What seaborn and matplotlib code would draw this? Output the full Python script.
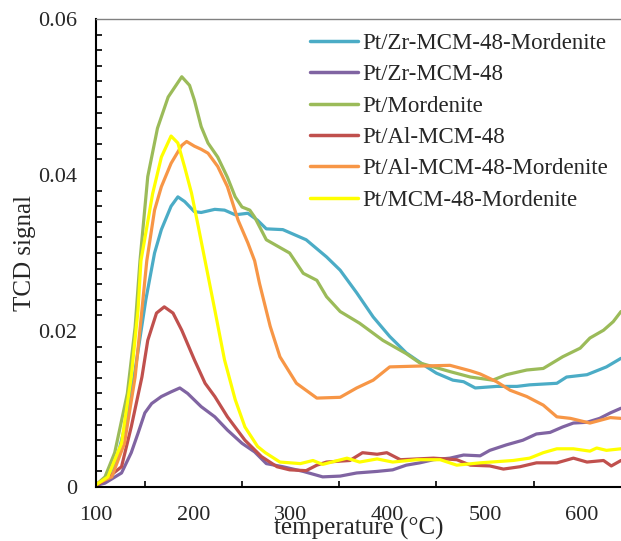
import matplotlib
matplotlib.use("Agg")
import matplotlib.pyplot as plt
import seaborn as sns
import pandas as pd
from matplotlib.ticker import MultipleLocator, FuncFormatter

names = ["Pt/Zr-MCM-48-Mordenite", "Pt/Zr-MCM-48", "Pt/Mordenite",
         "Pt/Al-MCM-48", "Pt/Al-MCM-48-Mordenite", "Pt/MCM-48-Mordenite"]
colors = ["#4BACC6", "#8064A2", "#9BBB59", "#C0504D", "#F79646", "#FFFF00"]

zr_mor_T = [100, 110, 120, 130, 140, 151, 160, 167, 177, 184, 191, 201, 208, 222, 232, 243, 256, 266, 275, 292,
            316, 337, 351, 368, 385, 402, 419, 440, 450, 467, 478, 490, 512, 533, 546, 574, 584, 605, 625, 640]
zr_mor_v = [0.0003, 0.001, 0.003, 0.008, 0.015, 0.024, 0.030, 0.033, 0.036, 0.0372, 0.0366, 0.0353, 0.0352,
            0.0356, 0.0355, 0.0349, 0.0351, 0.0342, 0.0331, 0.0330, 0.0317, 0.0295, 0.0278, 0.0249, 0.0218,
            0.0193, 0.0172, 0.0154, 0.0146, 0.0137, 0.0135, 0.0127, 0.0129, 0.0129, 0.0131, 0.0133, 0.0141,
            0.0144, 0.0154, 0.0165]

zr_T = [100, 109, 126, 136, 143, 150, 157, 167, 177, 186, 194, 208, 222, 235, 250, 263, 275, 292, 313, 333, 351,
        368, 389, 405, 419, 433, 447, 464, 478, 495, 505, 522, 539, 553, 567, 580, 591, 605, 618, 629, 640]
zr_v = [0.0002, 0.0005, 0.0018, 0.0044, 0.0069, 0.0095, 0.0107, 0.0116, 0.0122, 0.0127, 0.0120, 0.0103, 0.0090,
        0.0073, 0.0056, 0.0045, 0.0030, 0.0026, 0.0020, 0.0013, 0.0014, 0.0018, 0.0020, 0.0022, 0.0028, 0.0031,
        0.0035, 0.0037, 0.0041, 0.0040, 0.0047, 0.0054, 0.0060, 0.0068, 0.0070, 0.0077, 0.0082, 0.0083, 0.0088,
        0.0095, 0.0101]

mor_T = [100, 109, 119, 132, 140, 145, 153, 163, 174, 188, 196, 201, 208, 215, 225, 235, 243, 250, 258, 263, 275,
         299, 313, 327, 337, 351, 371, 395, 419, 433, 450, 464, 485, 508, 522, 543, 560, 580, 598, 608, 622, 632, 640]
mor_v = [0.0003, 0.0013, 0.0044, 0.012, 0.0205, 0.029, 0.0398, 0.046, 0.050, 0.0526, 0.0515, 0.0496, 0.0462,
         0.0441, 0.0423, 0.0397, 0.0372, 0.0359, 0.0355, 0.0346, 0.0317, 0.0300, 0.0274, 0.0265, 0.0244, 0.0225,
         0.0210, 0.0188, 0.0171, 0.0159, 0.0153, 0.0148, 0.0141, 0.0137, 0.0144, 0.0150, 0.0152, 0.0167, 0.0178,
         0.0191, 0.0201, 0.0212, 0.0225]

al_T = [100, 109, 126, 136, 147, 153, 162, 170, 179, 188, 201, 212, 222, 235, 253, 270, 286, 299, 316, 327, 337,
        361, 374, 389, 399, 413, 447, 471, 485, 505, 519, 536, 553, 574, 591, 605, 622, 630, 640]
al_v = [0.0002, 0.0009, 0.0026, 0.0077, 0.0141, 0.0188, 0.0223, 0.0231, 0.0223, 0.0201, 0.0163, 0.0133, 0.0116,
        0.0090, 0.0060, 0.0039, 0.0026, 0.0022, 0.0021, 0.0028, 0.0032, 0.0034, 0.0044, 0.0042, 0.0044, 0.0035,
        0.0037, 0.0035, 0.0028, 0.0027, 0.0023, 0.0026, 0.0031, 0.0031, 0.0037, 0.0032, 0.0034, 0.0027, 0.0034]

al_mor_T = [100, 116, 129, 140, 147, 152, 160, 167, 177, 188, 193, 201, 208, 215, 225, 235, 246, 256, 263, 268,
            279, 289, 306, 327, 351, 368, 385, 402, 430, 464, 485, 495, 512, 526, 543, 560, 574, 588, 608, 629, 640]
al_mor_v = [0.0004, 0.0013, 0.0056, 0.0141, 0.0227, 0.029, 0.0355, 0.0385, 0.0415, 0.0438, 0.0443, 0.0437,
            0.0433, 0.0428, 0.0411, 0.0385, 0.0342, 0.0313, 0.0290, 0.0261, 0.0206, 0.0167, 0.0133, 0.0114,
            0.0115, 0.0127, 0.0137, 0.0154, 0.0155, 0.0156, 0.0149, 0.0145, 0.0135, 0.0124, 0.0116, 0.0105,
            0.0090, 0.0088, 0.0082, 0.0089, 0.0088]

mcm_mor_T = [100, 112, 126, 136, 143, 146, 158, 167, 177, 184, 191, 198, 205, 212, 222, 232, 243, 253, 266, 274,
             289, 310, 323, 333, 358, 371, 389, 405, 430, 454, 471, 495, 529, 546, 560, 574, 591, 608, 615, 625, 640]
mcm_mor_v = [0.0003, 0.0013, 0.0056, 0.0141, 0.0227, 0.029, 0.0376, 0.0423, 0.0450, 0.0441, 0.0410, 0.0377,
             0.0334, 0.0290, 0.0227, 0.0163, 0.0112, 0.0077, 0.0052, 0.0044, 0.0032, 0.0030, 0.0034, 0.0029,
             0.0037, 0.0032, 0.0036, 0.0032, 0.0035, 0.0035, 0.0028, 0.0031, 0.0034, 0.0037, 0.0044, 0.0049,
             0.0049, 0.0046, 0.0050, 0.0047, 0.0049]

series_T = [zr_mor_T, zr_T, mor_T, al_T, al_mor_T, mcm_mor_T]
series_v = [zr_mor_v, zr_v, mor_v, al_v, al_mor_v, mcm_mor_v]

frames = []
for n, T, v in zip(names, series_T, series_v):
    frames.append(pd.DataFrame({"temperature": T, "signal": v, "sample": n}))
df = pd.concat(frames, ignore_index=True)

sns.set_style("white")
plt.rcParams["font.family"] = ["Liberation Serif", "DejaVu Serif"]

fig = plt.figure(figsize=(6.21, 5.41), dpi=100)
ax = fig.add_axes([0.155, 0.0998, 0.845, 0.865])

sns.lineplot(data=df, x="temperature", y="signal", hue="sample", hue_order=names,
             palette=colors, estimator=None, sort=True, linewidth=2.3, ax=ax)

ax.set_xlim(100, 640)
ax.set_ylim(0, 0.06)
ax.xaxis.set_major_locator(MultipleLocator(100))
ax.xaxis.set_minor_locator(MultipleLocator(50))
ax.yaxis.set_major_locator(MultipleLocator(0.02))
ax.yaxis.set_minor_locator(MultipleLocator(0.002))
ax.yaxis.set_major_formatter(FuncFormatter(lambda v, p: "0" if abs(v) < 1e-9 else f"{v:.2f}"))

ax.tick_params(axis="both", which="both", direction="in", length=4.5, width=1.2, color="black")
ax.tick_params(axis="x", which="both", pad=14, labelsize=16)
ax.tick_params(axis="y", which="both", pad=14, labelsize=16)
ax.tick_params(axis="y", which="minor", left=True)
ax.tick_params(axis="x", which="minor", bottom=True)

for s in ["left", "bottom"]:
    ax.spines[s].set_color("black")
    ax.spines[s].set_linewidth(1.5)
ax.spines["top"].set_color("#808080")
ax.spines["top"].set_linewidth(1.0)
ax.spines["right"].set_visible(False)

ax.set_xlabel("temperature (°C)", fontsize=18, labelpad=-6)
ax.set_ylabel("TCD signal", fontsize=18, labelpad=1)

leg = ax.legend(loc="upper left", bbox_to_anchor=(0.39, 0.99), frameon=False, fontsize=16.5,
                handlelength=2.1, handletextpad=0.2, labelspacing=0.45, borderaxespad=0)
for line in leg.get_lines():
    line.set_linewidth(2.5)

fig.savefig("out.png", dpi=100)
